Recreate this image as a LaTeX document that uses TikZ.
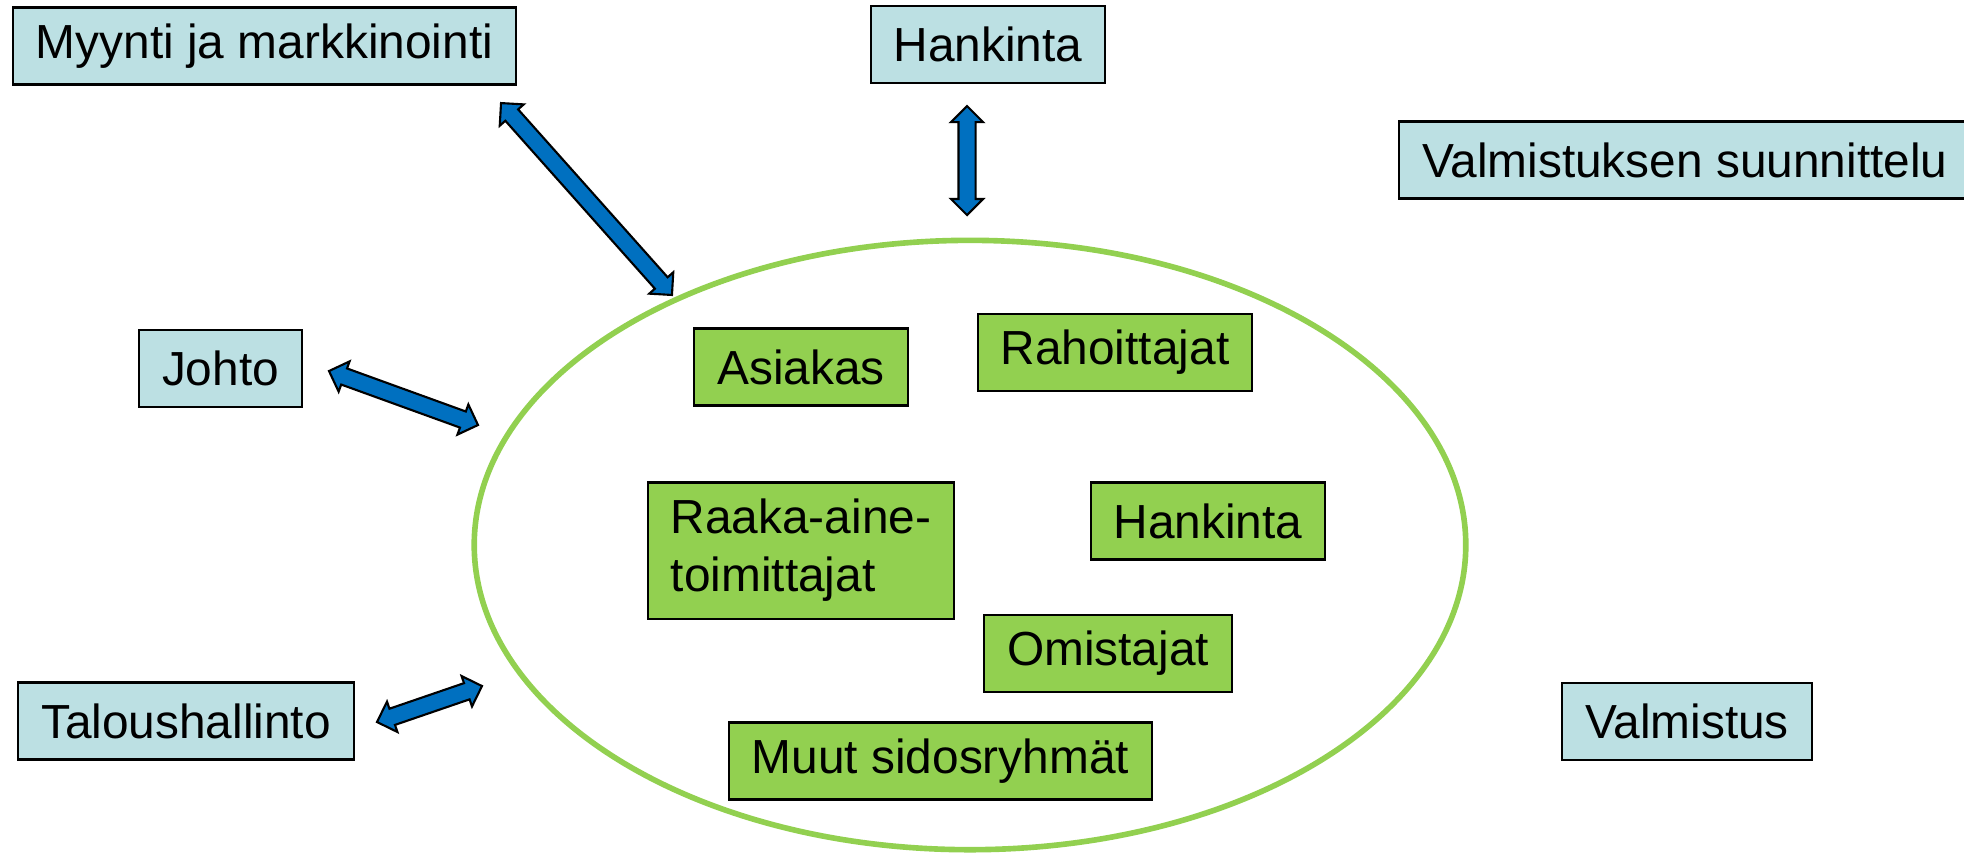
\documentclass[tikz,border=0pt]{standalone}
\usepackage{fontspec}
\setmainfont{Liberation Sans}
\usetikzlibrary{calc,shapes.geometric,shapes.arrows}
\definecolor{deptblue}{HTML}{BCE0E3}
\definecolor{grpgreen}{HTML}{92D050}
\definecolor{arrblue}{HTML}{0070C0}
\tikzstyle{dept} = [rectangle, minimum height=0.77cm, inner xsep=0.23cm, text centered, draw=black, line width=0.6pt, fill=deptblue, font=\fontsize{13.6}{16.5}\selectfont]
\tikzstyle{group} = [rectangle, minimum height=0.77cm, inner xsep=0.23cm, text centered, draw=black, line width=0.6pt, fill=grpgreen, font=\fontsize{13.6}{16.5}\selectfont]
\tikzstyle{ring} = [ellipse, draw=grpgreen, line width=1.6pt, minimum width=9.91cm, minimum height=6.09cm, inner sep=0pt]
\tikzstyle{biarrow} = [double arrow, draw=black, line width=0.6pt, fill=arrblue, inner xsep=0pt, inner ysep=0.075cm, minimum width=0pt, double arrow head extend=0.075cm, double arrow head indent=0pt]

\begin{document}
\begin{tikzpicture}[x=0.01cm, y=-0.01cm]
\useasboundingbox (0,0) rectangle (1964,856);

\node (ring) [ring] at (970,545) {};

\node (myynti) [dept] at (264.5,46) {Myynti ja markkinointi};
\node (hankinta) [dept] at (988,44.5) {Hankinta};
\node (suunnittelu) [dept, anchor=west] at (1398,160) {Valmistuksen suunnittelu};
\node (johto) [dept] at (220.5,368.5) {Johto};
\node (talous) [dept] at (186,721) {Taloushallinto};
\node (valmistus) [dept] at (1687,721.5) {Valmistus};

\node (asiakas) [group] at (801,367) {Asiakas};
\node (rahoittajat) [group] at (1115,352.5) {Rahoittajat};
\node (raaka) [group, minimum height=1.36cm, minimum width=3.04cm, align=left] at (801,550.5) {Raaka-aine-\\toimittajat};
\node (hankinta2) [group] at (1208,521) {Hankinta};
\node (omistajat) [group] at (1108,653.5) {Omistajat};
\node (muut) [group] at (940.5,761) {Muut sidosryhmät};

\coordinate (myA) at (501,103);
\coordinate (myB) at (672,295);
\coordinate (haA) at (967,106);
\coordinate (haB) at (967,215);
\coordinate (joA) at (329,371);
\coordinate (joB) at (478,425);
\coordinate (taA) at (377,722);
\coordinate (taB) at (482,686);

\path let \p1=($(myB)-(myA)$), \n1={atan2(\y1,\x1)}, \n2={veclen(\x1,\y1)} in node (arrmy) [biarrow, rotate=\n1, minimum height=\n2] at ($(myA)!0.5!(myB)$) {};
\path let \p1=($(haB)-(haA)$), \n1={atan2(\y1,\x1)}, \n2={veclen(\x1,\y1)} in node (arrha) [biarrow, rotate=\n1, minimum height=\n2] at ($(haA)!0.5!(haB)$) {};
\path let \p1=($(joB)-(joA)$), \n1={atan2(\y1,\x1)}, \n2={veclen(\x1,\y1)} in node (arrjo) [biarrow, rotate=\n1, minimum height=\n2] at ($(joA)!0.5!(joB)$) {};
\path let \p1=($(taB)-(taA)$), \n1={atan2(\y1,\x1)}, \n2={veclen(\x1,\y1)} in node (arrta) [biarrow, rotate=\n1, minimum height=\n2] at ($(taA)!0.5!(taB)$) {};

\end{tikzpicture}
\end{document}
